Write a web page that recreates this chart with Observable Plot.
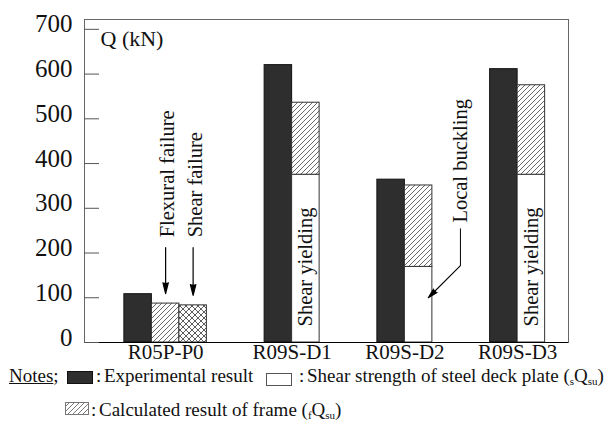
<!DOCTYPE html>
<html><head><meta charset="utf-8">
<script src="https://cdn.jsdelivr.net/npm/d3@7"></script>
<script src="https://cdn.jsdelivr.net/npm/@observablehq/plot@0.6"></script>
<style>
body{margin:0;background:#fff;font-family:'Liberation Serif','Times New Roman',serif;}
#wrap{position:relative;width:609px;height:421px;overflow:hidden;}
.lg{position:absolute;font-size:19px;color:#111;white-space:nowrap;line-height:20px;}
.lg sub{font-size:11px;vertical-align:-3px;line-height:0;}
.sw{position:absolute;}
</style></head><body><div id="wrap"><div id="chart"></div>
<span class="lg" style="left:9px;top:366px"><span style="text-decoration:underline">Notes</span>;</span>
<svg class="sw" style="left:67px;top:371px" width="26" height="13"><rect x="0.5" y="0.5" width="25" height="12" fill="#2e2e2e" stroke="#111"/></svg>
<span class="lg" style="left:96px;top:366px">:</span>
<span class="lg" style="left:104px;top:366px">Experimental result</span>
<svg class="sw" style="left:266px;top:373px" width="26" height="13"><rect x="0.5" y="0.5" width="25" height="12" fill="#fff" stroke="#555"/></svg>
<span class="lg" style="left:299px;top:366px">:</span>
<span class="lg" style="left:307px;top:366px">Shear strength of steel deck plate (<sub>s</sub>Q<sub>su</sub>)</span>
<svg class="sw" style="left:65px;top:402px" width="24" height="13"><defs><pattern id="lghatch" patternUnits="userSpaceOnUse" width="5" height="5"><path d="M0,5L5,0M-1,1L1,-1M4,6L6,4" stroke="#555" stroke-width="0.8"/></pattern></defs><rect x="0.5" y="0.5" width="23" height="12" fill="url(#lghatch)" stroke="#777"/></svg>
<span class="lg" style="left:91px;top:400px">:</span>
<span class="lg" style="left:99px;top:400px">Calculated result of frame (<sub>f</sub>Q<sub>su</sub>)</span>
</div>
<script>
// ---- data (kN) ----
const specimens = ["R05P-P0", "R09S-D1", "R09S-D2", "R09S-D3"];
const experimental = [108, 620, 364, 611];          // black bars
const calculatedFrame = [87, 536, 351, 575];        // hatched (fQsu)
const deckShear = [null, 375, 169, 375];            // white part (sQsu)
const shearFailureCalc = [83, null, null, null];    // cross-hatched (R05P-P0 shear failure)
const yTicks = [0, 100, 200, 300, 400, 500, 600, 700];
const failureLabels = ["Flexural failure", "Shear failure"];
const yieldingLabel = "Shear yielding";
const bucklingLabel = "Local buckling";
const axisLabel = "Q (kN)";

// ---- layout in bar-width units ----
const groupGap = 2.1;
const bars = [];
const groups = [];
let cursor = 0;
specimens.forEach((s, i) => {
  const start = cursor;
  bars.push({specimen: s, kind: "exp", x1: cursor, x2: cursor + 1, y1: 0, y2: experimental[i]});
  cursor += 1;
  const base = deckShear[i] ?? 0;
  if (deckShear[i] != null) bars.push({specimen: s, kind: "deck", x1: cursor, x2: cursor + 1, y1: 0, y2: deckShear[i]});
  bars.push({specimen: s, kind: "frame", x1: cursor, x2: cursor + 1, y1: base, y2: calculatedFrame[i]});
  cursor += 1;
  if (shearFailureCalc[i] != null) {
    bars.push({specimen: s, kind: "shear", x1: cursor, x2: cursor + 1, y1: 0, y2: shearFailureCalc[i]});
    cursor += 1;
  }
  groups.push({name: s, center: (start + cursor) / 2});
  cursor += groupGap;
});
const lastEnd = cursor - groupGap;
const xDomain = [-1.45, lastEnd + 0.85];

const kindBars = k => bars.filter(b => b.kind === k);
const mid = b => (b.x1 + b.x2) / 2;

const p0 = [bars.find(b => b.specimen === "R05P-P0" && b.kind === "frame"), bars.find(b => b.specimen === "R05P-P0" && b.kind === "shear")];
const failureNotes = p0.map((b, i) => ({label: failureLabels[i], x: mid(b), top: b.y2}));
const noteBase = 235, arrowFrom = 212;

const yielding = kindBars("deck").filter(b => b.specimen !== "R09S-D2").map(b => ({label: yieldingLabel, x: mid(b)}));

const d2 = bars.find(b => b.specimen === "R09S-D2" && b.kind === "deck");
const buck = {label: bucklingLabel, x: d2.x2 + 1.02, base: 268, elbow: 172, tipX: d2.x2 - 0.15, tipY: 100};

const FONT = "'Liberation Serif','Times New Roman',serif";
const chart = Plot.plot({
  width: 609, height: 370,
  marginLeft: 84, marginRight: 41, marginTop: 19, marginBottom: 28,
  x: {domain: xDomain, axis: null},
  y: {domain: [0, 722], axis: null},
  style: {fontFamily: FONT, background: "white", color: "#000", overflow: "visible"},
  marks: [
    Plot.rect(kindBars("exp"), {x1: "x1", x2: "x2", y1: "y1", y2: "y2", fill: "#2e2e2e", stroke: "#111", strokeWidth: 1}),
    Plot.rect(kindBars("deck"), {x1: "x1", x2: "x2", y1: "y1", y2: "y2", fill: "white", stroke: "#333", strokeWidth: 1}),
    Plot.rect(kindBars("frame"), {x1: "x1", x2: "x2", y1: "y1", y2: "y2", fill: "url(#hatch)", stroke: "#333", strokeWidth: 1}),
    Plot.rect(kindBars("shear"), {x1: "x1", x2: "x2", y1: "y1", y2: "y2", fill: "url(#cross)", stroke: "#333", strokeWidth: 1}),
    Plot.frame({stroke: "#666", strokeWidth: 1}),
    Plot.ruleY([0], {stroke: "#000", strokeWidth: 1.2}),
    Plot.axisY({ticks: yTicks, tickSize: 15, dx: 15, tickFormat: () => "", label: null, stroke: "#555"}),
    Plot.axisY({ticks: yTicks, tickSize: 0, tickPadding: 12, dy: -5, fontSize: 25, label: null, fill: "#111"}),
    Plot.text(groups, {x: "center", text: "name", frameAnchor: "bottom", dy: 16, fontSize: 21, fill: "#111"}),
    Plot.text([axisLabel], {frameAnchor: "top-left", dx: 16, dy: 11, textAnchor: "start", lineAnchor: "top", fontSize: 22, fill: "#111"}),
    Plot.text(failureNotes, {x: d => d.x, y: () => noteBase, text: "label", rotate: -90, textAnchor: "start", dx: 2, fontSize: 20.5, fill: "#111"}),
    Plot.arrow(failureNotes, {x: "x", y1: () => arrowFrom, y2: "top", insetEnd: 10, headLength: 14, headAngle: 28, stroke: "#000", strokeWidth: 1.2}),
    Plot.text(yielding, {x: "x", y: () => 0, text: "label", rotate: -90, textAnchor: "start", dy: -16, fontSize: 20.5, fill: "#111"}),
    Plot.text([buck], {x: "x", y: "base", text: "label", rotate: -90, textAnchor: "start", fontSize: 20.5, fill: "#111"}),
    Plot.link([buck], {x1: "x", x2: "x", y1: d => d.base - 13, y2: "elbow", stroke: "#000", strokeWidth: 1}),
    Plot.arrow([buck], {x1: "x", y1: "elbow", x2: "tipX", y2: "tipY", headLength: 14, headAngle: 28, stroke: "#000", strokeWidth: 1.1})
  ]
});
const svg = d3.select(chart);
svg.attr("font-family", FONT);
// filled arrowheads: the head sub-path closes into a triangle when filled
svg.selectAll('g[aria-label="arrow"]').attr("fill", "#000").selectAll("path").attr("fill", "#000");
const defs = svg.insert("defs", ":first-child");
const h = defs.append("pattern").attr("id", "hatch").attr("patternUnits", "userSpaceOnUse").attr("width", 5).attr("height", 5);
h.append("rect").attr("width", 5).attr("height", 5).attr("fill", "white");
h.append("path").attr("d", "M0,5L5,0M-1,1L1,-1M4,6L6,4").attr("stroke", "#444").attr("stroke-width", 0.8);
const c = defs.append("pattern").attr("id", "cross").attr("patternUnits", "userSpaceOnUse").attr("width", 6).attr("height", 6);
c.append("rect").attr("width", 6).attr("height", 6).attr("fill", "white");
c.append("path").attr("d", "M0,6L6,0M-1,1L1,-1M5,7L7,5M0,0L6,6M-1,5L1,7M5,-1L7,1").attr("stroke", "#333").attr("stroke-width", 0.8);
document.getElementById("chart").appendChild(chart);
</script>
</body></html>
